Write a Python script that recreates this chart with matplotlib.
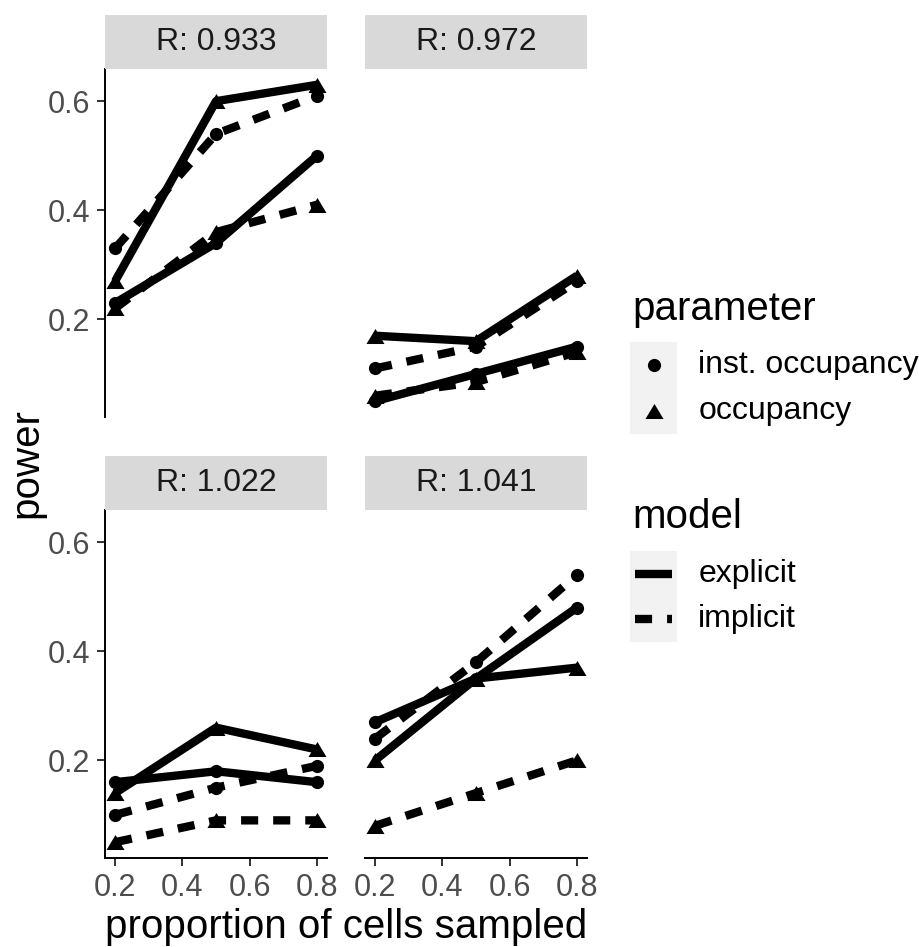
import matplotlib
matplotlib.use('Agg')
from matplotlib import pyplot as plt

plt.rcParams['font.family'] = ['Liberation Sans', 'DejaVu Sans']

# data
props = [0.2, 0.5, 0.8]
r_labels = ['0.933', '0.972', '1.022', '1.041']
params = ['inst. occupancy', 'occupancy']
models = ['explicit', 'implicit']

# rows = facets (R: 0.933, 0.972, 1.022, 1.041), cols = proportion sampled
explicit_inst = [[0.23, 0.34, 0.50], [0.05, 0.10, 0.15], [0.16, 0.18, 0.16], [0.27, 0.35, 0.48]]
explicit_occ = [[0.27, 0.60, 0.63], [0.17, 0.16, 0.28], [0.14, 0.26, 0.22], [0.20, 0.35, 0.37]]
implicit_inst = [[0.33, 0.54, 0.61], [0.11, 0.15, 0.27], [0.10, 0.15, 0.19], [0.24, 0.38, 0.54]]
implicit_occ = [[0.22, 0.36, 0.41], [0.06, 0.085, 0.14], [0.05, 0.09, 0.09], [0.08, 0.14, 0.20]]

series = {
    ('explicit', 'inst. occupancy'): explicit_inst,
    ('explicit', 'occupancy'): explicit_occ,
    ('implicit', 'inst. occupancy'): implicit_inst,
    ('implicit', 'occupancy'): implicit_occ,
}

W, H = 920, 947
LW = 6
TRI = [(-1, -0.833), (1, -0.833), (0, 0.833)]
marker_for = {'inst. occupancy': ('o', 9.5), 'occupancy': (TRI, 13)}
style_for = {'explicit': '-', 'implicit': (0, (2.05, 1.8))}


def rect(x, y_top, w, h):
    return [x / W, (H - y_top - h) / H, w / W, h / H]


def expand(vals, frac=0.05):
    lo, hi = min(vals), max(vals)
    pad = (hi - lo) * frac
    return lo - pad, hi + pad


all_vals = [v for s in series.values() for row in s for v in row]
ylim = expand(all_vals)
xlim = expand(props)

fig = plt.figure(figsize=(W / 100, H / 100), dpi=100)

panel_x = [105, 365]
panel_top = [69, 510]
pw, ph, strip_h = 222, 348, 54

for i, r in enumerate(r_labels):
    row, col = divmod(i, 2)
    ax = fig.add_axes(rect(panel_x[col], panel_top[row], pw, ph))
    for model in models:
        for param in params:
            y = series[(model, param)][i]
            ax.plot(props, y, color='black', lw=LW, ls=style_for[model],
                    solid_capstyle='butt', dash_capstyle='butt', zorder=2)
            mk, ms = marker_for[param]
            ax.plot(props, y, ls='none', marker=mk, ms=ms, color='black',
                    mew=0, zorder=3)
    ax.set_xlim(*xlim)
    ax.set_ylim(*ylim)
    ax.set_xticks([0.2, 0.4, 0.6, 0.8])
    ax.set_xticklabels(['0.2', '0.4', '0.6', '0.8'])
    ax.set_yticks([0.2, 0.4, 0.6])
    ax.set_yticklabels(['0.2', '0.4', '0.6'])
    ax.tick_params(labelsize=22, labelcolor='#4D4D4D', color='#333333',
                   length=5.5, width=1.4, pad=5)
    for s in ['top', 'right']:
        ax.spines[s].set_visible(False)
    ax.spines['left'].set_linewidth(1.4)
    ax.spines['bottom'].set_linewidth(1.4)
    if col == 1:
        ax.spines['left'].set_visible(False)
        ax.tick_params(axis='y', left=False, labelleft=False)
    if row == 0:
        ax.spines['bottom'].set_visible(False)
        ax.tick_params(axis='x', bottom=False, labelbottom=False)

    strip = fig.add_axes(rect(panel_x[col], panel_top[row] - strip_h, pw, strip_h))
    strip.set_facecolor('#D9D9D9')
    strip.set_xticks([])
    strip.set_yticks([])
    for s in strip.spines.values():
        s.set_visible(False)
    strip.text(0.5, 0.5, f'R: {r}', ha='center', va='center', size=23,
               color='#1A1A1A', transform=strip.transAxes)

fig.text(26 / W, (H - 463) / H, 'power', rotation=90, ha='center', va='center',
         size=29)
fig.text(346 / W, (H - 938) / H, 'proportion of cells sampled', ha='center',
         va='baseline', size=29)

# legend: parameter (shape)
fig.text(632 / W, (H - 320) / H, 'parameter', size=29, va='baseline')
kax = fig.add_axes(rect(630, 342, 47, 92))
kax.set_facecolor('#F2F2F2')
kax.set_xlim(0, 1)
kax.set_ylim(len(params), 0)
for j, param in enumerate(params):
    mk, ms = marker_for[param]
    kax.plot([0.5], [j + 0.5], ls='none', marker=mk, ms=ms, color='black', mew=0)
    kax.text(1.45, j + 0.5, param, va='center', ha='left', size=23, clip_on=False)
kax.set_xticks([])
kax.set_yticks([])
for s in kax.spines.values():
    s.set_visible(False)

# legend: model (linetype)
fig.text(632 / W, (H - 528) / H, 'model', size=29, va='baseline')
lax = fig.add_axes(rect(630, 551, 47, 91))
lax.set_facecolor('#F2F2F2')
lax.set_xlim(0, 1)
lax.set_ylim(len(models), 0)
for j, model in enumerate(models):
    lax.plot([0.106, 0.894], [j + 0.5, j + 0.5], color='black', lw=LW,
             ls=style_for[model], solid_capstyle='butt', dash_capstyle='butt')
    lax.text(1.45, j + 0.5, model, va='center', ha='left', size=23, clip_on=False)
lax.set_xticks([])
lax.set_yticks([])
for s in lax.spines.values():
    s.set_visible(False)

fig.savefig('out.png', dpi=100)
